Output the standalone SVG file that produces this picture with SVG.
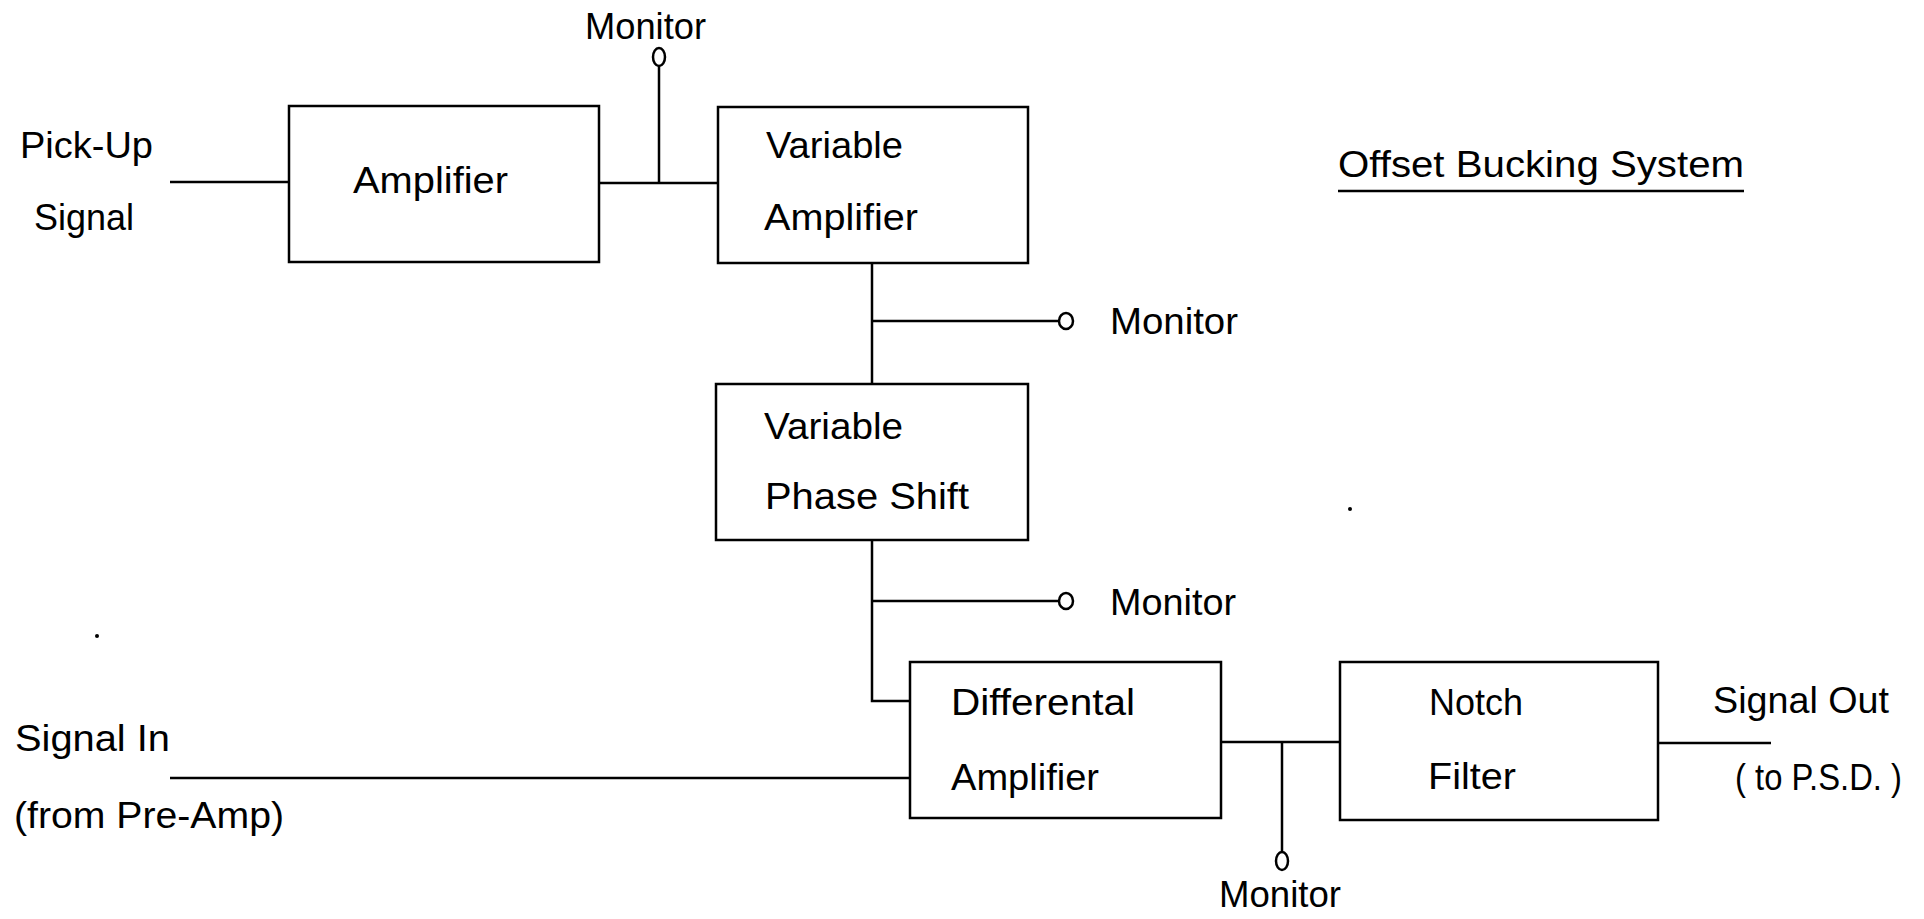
<svg xmlns="http://www.w3.org/2000/svg" width="1924" height="919" viewBox="0 0 1924 919">
  <style>
    .box { fill: none; stroke: #000; stroke-width: 2.5; }
    .wire { fill: none; stroke: #000; stroke-width: 2.5; }
    .tap { fill: #fff; stroke: #000; stroke-width: 2.5; }
    text { font-family: "Liberation Sans Narrow", "Liberation Sans", Arial, sans-serif; font-size: 36px; fill: #000; }
  </style>

  <!-- signal wiring -->
  <g id="connectors">
    <line class="wire" x1="170" y1="182" x2="289" y2="182"/>
    <line class="wire" x1="599" y1="183" x2="718" y2="183"/>
    <line class="wire" x1="659" y1="183" x2="659" y2="66"/>
    <line class="wire" x1="872" y1="263" x2="872" y2="384"/>
    <line class="wire" x1="872" y1="321" x2="1059" y2="321"/>
    <polyline class="wire" points="872,540 872,701 910,701"/>
    <line class="wire" x1="872" y1="601" x2="1059" y2="601"/>
    <line class="wire" x1="170" y1="778" x2="910" y2="778"/>
    <line class="wire" x1="1221" y1="742" x2="1340" y2="742"/>
    <line class="wire" x1="1282" y1="742" x2="1282" y2="852"/>
    <line class="wire" x1="1658" y1="743" x2="1771" y2="743"/>
  </g>

  <!-- monitor test points -->
  <g id="monitor-taps">
    <ellipse class="tap" cx="659" cy="57" rx="6" ry="9"/>
    <ellipse class="tap" cx="1066" cy="321" rx="7" ry="8"/>
    <ellipse class="tap" cx="1066" cy="601" rx="7" ry="8"/>
    <ellipse class="tap" cx="1282" cy="861" rx="6" ry="9"/>
  </g>

  <g id="amplifier">
    <rect class="box" x="289" y="106" width="310" height="156"/>
    <text x="353" y="193" textLength="155" lengthAdjust="spacingAndGlyphs">Amplifier</text>
  </g>

  <g id="variable-amplifier">
    <rect class="box" x="718" y="107" width="310" height="156"/>
    <text x="766" y="158" textLength="137" lengthAdjust="spacingAndGlyphs">Variable</text>
    <text x="764" y="230" textLength="154" lengthAdjust="spacingAndGlyphs">Amplifier</text>
  </g>

  <g id="variable-phase-shift">
    <rect class="box" x="716" y="384" width="312" height="156"/>
    <text x="764" y="439" textLength="139" lengthAdjust="spacingAndGlyphs">Variable</text>
    <text x="765" y="509" textLength="204" lengthAdjust="spacingAndGlyphs">Phase Shift</text>
  </g>

  <g id="differential-amplifier">
    <rect class="box" x="910" y="662" width="311" height="156"/>
    <text x="951" y="715" textLength="184" lengthAdjust="spacingAndGlyphs">Differental</text>
    <text x="951" y="790" textLength="148" lengthAdjust="spacingAndGlyphs">Amplifier</text>
  </g>

  <g id="notch-filter">
    <rect class="box" x="1340" y="662" width="318" height="158"/>
    <text x="1429" y="715" textLength="94" lengthAdjust="spacingAndGlyphs">Notch</text>
    <text x="1428" y="789" textLength="88" lengthAdjust="spacingAndGlyphs">Filter</text>
  </g>

  <!-- terminal and monitor labels -->
  <g id="labels">
    <text x="585" y="39" textLength="121" lengthAdjust="spacingAndGlyphs">Monitor</text>
    <text x="1110" y="334" textLength="128" lengthAdjust="spacingAndGlyphs">Monitor</text>
    <text x="1110" y="615" textLength="126" lengthAdjust="spacingAndGlyphs">Monitor</text>
    <text x="1219" y="907" textLength="122" lengthAdjust="spacingAndGlyphs">Monitor</text>
    <text x="20" y="158" textLength="133" lengthAdjust="spacingAndGlyphs">Pick-Up</text>
    <text x="34" y="230" textLength="100" lengthAdjust="spacingAndGlyphs">Signal</text>
    <text x="15" y="751" textLength="155" lengthAdjust="spacingAndGlyphs">Signal In</text>
    <text x="14" y="828" textLength="270" lengthAdjust="spacingAndGlyphs">(from Pre-Amp)</text>
    <text x="1713" y="713" textLength="176" lengthAdjust="spacingAndGlyphs">Signal Out</text>
    <text x="1735" y="790" textLength="167" lengthAdjust="spacingAndGlyphs">( to P.S.D. )</text>
  </g>

  <g id="title">
    <text x="1338" y="177" textLength="406" lengthAdjust="spacingAndGlyphs">Offset Bucking System</text>
    <line class="wire" x1="1338" y1="191" x2="1744" y2="191"/>
  </g>

  <!-- small ink specks -->
  <circle cx="1350" cy="509" r="2" fill="#000"/>
  <circle cx="97" cy="636" r="2" fill="#000"/>
</svg>
